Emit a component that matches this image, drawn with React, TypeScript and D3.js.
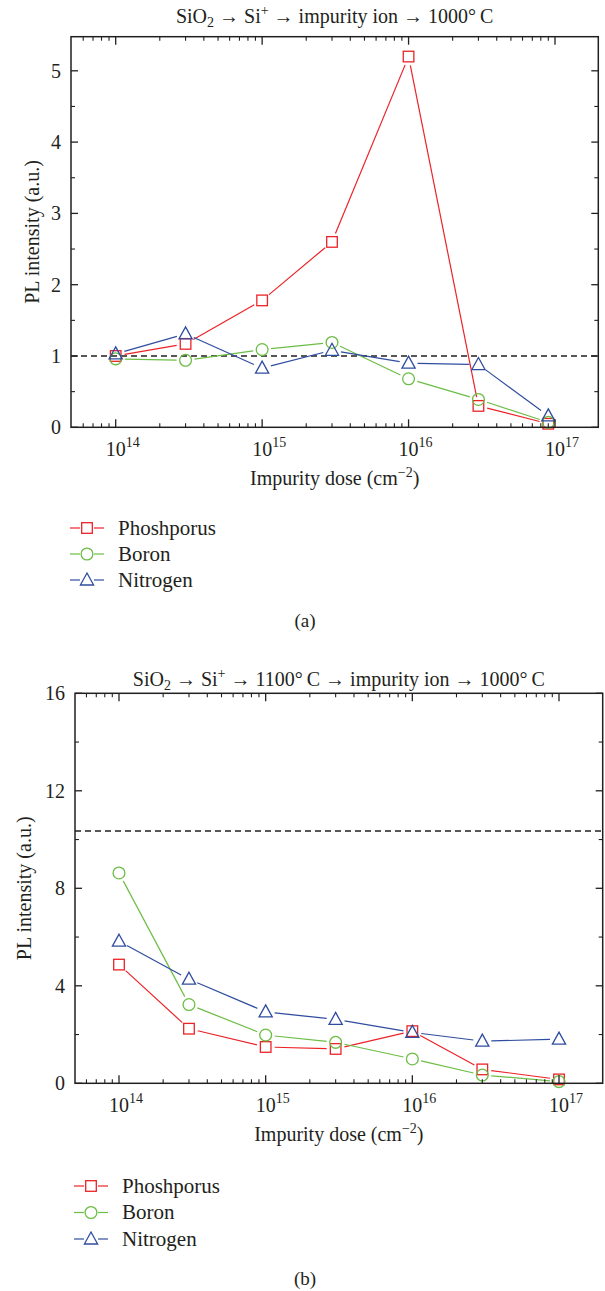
import React from "react";
import * as d3 from "d3";

// ---------- data ----------
const SERIES_NAMES = ["Phoshporus", "Boron", "Nitrogen"];
const SERIES_COLORS = ["#ec2227", "#6cbd45", "#2f4d9f"];
const SERIES_SHAPES = ["square", "circle", "triangle"];

const DOSE_A = [1e14, 3e14, 1e15, 3e15, 1e16, 3e16, 9e16];
const PHOS_A = [1.0, 1.17, 1.78, 2.6, 5.2, 0.3, 0.05];
const BORON_A = [0.96, 0.94, 1.09, 1.19, 0.68, 0.39, 0.07];
const NITRO_A = [1.03, 1.31, 0.83, 1.08, 0.9, 0.88, 0.16];
const REF_A = 1.0;
const YTICKS_A = [0, 1, 2, 3, 4, 5];
const YMINOR_A = [0.5, 1.5, 2.5, 3.5, 4.5];

const DOSE_B = [1e14, 3e14, 1e15, 3e15, 1e16, 3e16, 1e17];
const PHOS_B = [4.87, 2.24, 1.49, 1.41, 2.14, 0.57, 0.16];
const BORON_B = [8.63, 3.23, 1.98, 1.68, 1.0, 0.34, 0.07];
const NITRO_B = [5.83, 4.27, 2.93, 2.62, 2.09, 1.73, 1.81];
const REF_B = 10.35;
const YTICKS_B = [0, 4, 8, 12, 16];
const YMINOR_B = [2, 6, 10, 14];

const XDECADES = [14, 15, 16, 17];

const FONT = "'Liberation Serif', 'Times New Roman', serif";
const INK = "#231f20";

function Marker({ shape, x, y, color }: any) {
  const sw = 1.3;
  if (shape === "square")
    return <rect x={x - 5.3} y={y - 5.3} width={10.6} height={10.6} fill="none" stroke={color} strokeWidth={sw} />;
  if (shape === "circle")
    return <circle cx={x} cy={y} r={5.9} fill="none" stroke={color} strokeWidth={sw} />;
  return (
    <path
      d={`M${x},${y - 7}L${x + 6.6},${y + 5}L${x - 6.6},${y + 5}Z`}
      fill="none"
      stroke={color}
      strokeWidth={sw}
    />
  );
}

function GapLine({ pts, color, gap }: any) {
  const segs: any[] = [];
  for (let i = 0; i < pts.length - 1; i++) {
    const [x1, y1] = pts[i];
    const [x2, y2] = pts[i + 1];
    const dx = x2 - x1, dy = y2 - y1;
    const L = Math.hypot(dx, dy);
    if (L <= 2 * gap) continue;
    const ux = dx / L, uy = dy / L;
    segs.push(
      <line
        key={i}
        x1={x1 + ux * gap}
        y1={y1 + uy * gap}
        x2={x2 - ux * gap}
        y2={y2 - uy * gap}
        stroke={color}
        strokeWidth={1.2}
      />
    );
  }
  return <g>{segs}</g>;
}

function Chart({ g, doses, series, refVal, yTicks, yMinor, yDomain }: any) {
  const x = d3.scaleLog().domain([1e14, 1e17]).range([g.x14, g.x17]);
  const y = d3.scaleLinear().domain(yDomain).range([g.bottom, g.yTopTickPos]);
  const minorX: number[] = [];
  for (let d = 13; d <= 17; d++)
    for (let m = 2; m <= 9; m++) {
      const v = m * Math.pow(10, d);
      const px = x(v);
      if (px > g.left + 1 && px < g.right - 1) minorX.push(v);
    }
  const majMinorLen = { maj: 8, min: 4 };
  return (
    <g fontFamily={FONT} fill={INK}>
      <text x={(g.left + g.right) / 2} y={g.titleY} textAnchor="middle" fontSize={20}>
        {g.title}
      </text>
      <line x1={g.left} x2={g.right} y1={y(refVal)} y2={y(refVal)} stroke={INK} strokeWidth={1.3} strokeDasharray="6,4" />
      {series.map((s: any, si: number) => {
        const pts = doses.map((d: number, i: number) => [x(d), y(s.values[i])]);
        return (
          <g key={si}>
            <GapLine pts={pts} color={s.color} gap={9} />
            {pts.map((p: any, i: number) => (
              <Marker key={i} shape={s.shape} x={p[0]} y={p[1]} color={s.color} />
            ))}
          </g>
        );
      })}
      <rect x={g.left} y={g.top} width={g.right - g.left} height={g.bottom - g.top} fill="none" stroke={INK} strokeWidth={1.5} />
      {XDECADES.map((d) => {
        const px = x(Math.pow(10, d));
        return (
          <g key={"xm" + d}>
            <line x1={px} x2={px} y1={g.bottom} y2={g.bottom - majMinorLen.maj} stroke={INK} strokeWidth={1.3} />
            <line x1={px} x2={px} y1={g.top} y2={g.top + majMinorLen.maj} stroke={INK} strokeWidth={1.3} />
            <text x={px - 10} y={g.bottom + 29} fontSize={20}>
              10
              <tspan fontSize={14} dy={-9}>
                {d}
              </tspan>
            </text>
          </g>
        );
      })}
      {minorX.map((v, i) => {
        const px = x(v);
        return (
          <g key={"xn" + i}>
            <line x1={px} x2={px} y1={g.bottom} y2={g.bottom - majMinorLen.min} stroke={INK} strokeWidth={1.1} />
            <line x1={px} x2={px} y1={g.top} y2={g.top + majMinorLen.min} stroke={INK} strokeWidth={1.1} />
          </g>
        );
      })}
      {yTicks.map((v: number) => (
        <g key={"ym" + v}>
          <line x1={g.left} x2={g.left + 7} y1={y(v)} y2={y(v)} stroke={INK} strokeWidth={1.3} />
          <line x1={g.right} x2={g.right - 7} y1={y(v)} y2={y(v)} stroke={INK} strokeWidth={1.3} />
          <text x={g.left - 10} y={y(v)} dy="0.35em" textAnchor="end" fontSize={20}>
            {v}
          </text>
        </g>
      ))}
      {yMinor.map((v: number) => (
        <g key={"yn" + v}>
          <line x1={g.left} x2={g.left + 4} y1={y(v)} y2={y(v)} stroke={INK} strokeWidth={1.1} />
          <line x1={g.right} x2={g.right - 4} y1={y(v)} y2={y(v)} stroke={INK} strokeWidth={1.1} />
        </g>
      ))}
      <text x={(g.left + g.right) / 2} y={g.bottom + 58} textAnchor="middle" fontSize={20}>
        Impurity dose (cm
        <tspan fontSize={14} dy={-8}>
          {"\u22122"}
        </tspan>
        <tspan dy={8}>)</tspan>
      </text>
      <text
        transform={`translate(${g.yTitleX},${(g.top + g.bottom) / 2}) rotate(-90)`}
        textAnchor="middle"
        dominantBaseline="central"
        fontSize={20}
      >
        PL intensity (a.u.)
      </text>
      {series.map((s: any, i: number) => {
        const ly = g.legendY + i * g.legendStep;
        const cx = g.legendX;
        return (
          <g key={"lg" + i}>
            <line x1={cx - 17} x2={cx - 7} y1={ly} y2={ly} stroke={s.color} strokeWidth={1.2} />
            <line x1={cx + 7} x2={cx + 17} y1={ly} y2={ly} stroke={s.color} strokeWidth={1.2} />
            <Marker shape={s.shape} x={cx} y={ly} color={s.color} />
            <text x={cx + 31} y={ly} dy="0.33em" fontSize={21}>
              {s.name}
            </text>
          </g>
        );
      })}
      <text x={305} y={g.capY} textAnchor="middle" fontSize={19} dy="0.33em">
        {g.cap}
      </text>
    </g>
  );
}

function mkSeries(vals: number[][]) {
  return vals.map((v, i) => ({ name: SERIES_NAMES[i], color: SERIES_COLORS[i], shape: SERIES_SHAPES[i], values: v }));
}

const TitleA = (
  <>
    SiO<tspan fontSize={14} dy={4}>2</tspan>
    <tspan dy={-4}>{" \u2192 Si"}</tspan>
    <tspan fontSize={14} dy={-8}>+</tspan>
    <tspan dy={8}>{" \u2192 impurity ion \u2192 1000\u00b0\u2009C"}</tspan>
  </>
);
const TitleB = (
  <>
    SiO<tspan fontSize={14} dy={4}>2</tspan>
    <tspan dy={-4}>{" \u2192 Si"}</tspan>
    <tspan fontSize={14} dy={-8}>+</tspan>
    <tspan dy={8}>{" \u2192 1100\u00b0\u2009C \u2192 impurity ion \u2192 1000\u00b0\u2009C"}</tspan>
  </>
);

export default function App() {
  const gA = {
    left: 71, right: 598.3, top: 36.7, bottom: 427.3, yTopTickPos: 70.8,
    x14: 115.7, x17: 555, titleY: 22.5, title: TitleA, yTitleX: 32,
    legendX: 87, legendY: 528, legendStep: 26, cap: "(a)", capY: 621,
  };
  const gB = {
    left: 75, right: 602.7, top: 693.3, bottom: 1083.3, yTopTickPos: 693.3,
    x14: 119, x17: 559, titleY: 685.5, title: TitleB, yTitleX: 24,
    legendX: 91, legendY: 1186, legendStep: 26.5, cap: "(b)", capY: 1279,
  };
  return (
    <svg
      width={605}
      height={1291}
      style={{ position: "absolute", left: 0, top: 0, background: "#fff" }}
    >
      <rect width={605} height={1291} fill="#fff" />
      <Chart g={gA} doses={DOSE_A} series={mkSeries([PHOS_A, BORON_A, NITRO_A])} refVal={REF_A}
        yTicks={YTICKS_A} yMinor={YMINOR_A} yDomain={[0, 5]} />
      <Chart g={gB} doses={DOSE_B} series={mkSeries([PHOS_B, BORON_B, NITRO_B])} refVal={REF_B}
        yTicks={YTICKS_B} yMinor={YMINOR_B} yDomain={[0, 16]} />
    </svg>
  );
}
